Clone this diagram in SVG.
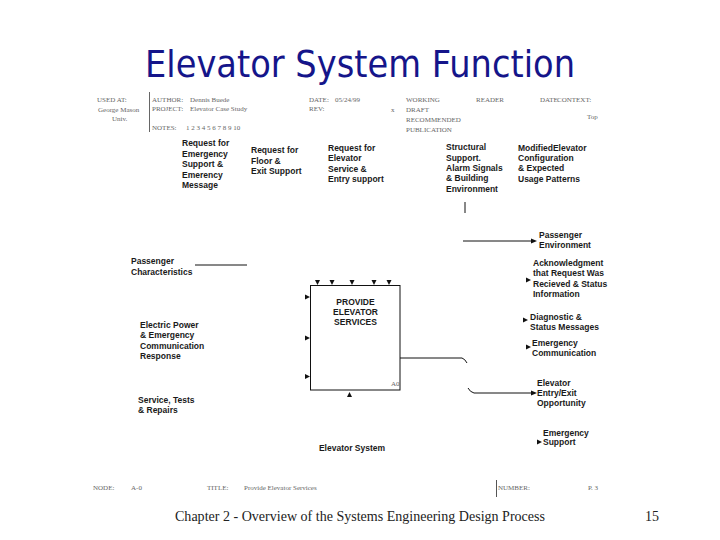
<svg xmlns="http://www.w3.org/2000/svg" width="720" height="540" viewBox="0 0 720 540">
<defs>
<style>
.title{font-family:"DejaVu Sans","Liberation Sans",sans-serif;font-size:38px;fill:#15158a}
.lbl{font-family:"Liberation Sans",Arial,sans-serif;font-size:8.5px;font-weight:bold;fill:#1a1a1a}
.hdr{font-family:"Liberation Serif","Times New Roman",serif;font-size:7px;fill:#666}
.foot{font-family:"Liberation Serif","Times New Roman",serif;font-size:14px;fill:#222}
.ln{stroke:#111;stroke-width:1;fill:none}
.ah{fill:#111}
</style>
</defs>
<rect width="720" height="540" fill="#fff"/>
<text class="title" x="145" y="77" textLength="430" lengthAdjust="spacingAndGlyphs">Elevator System Function</text>

<g id="header">
<text class="hdr" x="97" y="102">USED AT:</text>
<text class="hdr" x="98" y="112">George Mason</text>
<text class="hdr" x="112" y="121">Univ.</text>
<line x1="149.5" y1="92" x2="149.5" y2="132" stroke="#666" stroke-width="1"/>
<text class="hdr" x="152" y="102">AUTHOR:</text>
<text class="hdr" x="190" y="102">Dennis Buede</text>
<text class="hdr" x="152" y="111">PROJECT:</text>
<text class="hdr" x="190" y="111">Elevator Case Study</text>
<text class="hdr" x="152" y="130">NOTES:</text>
<text class="hdr" x="186" y="130">1 2 3 4 5 6 7 8 9 10</text>
<text class="hdr" x="309" y="102">DATE:</text>
<text class="hdr" x="335" y="102">05/24/99</text>
<text class="hdr" x="309" y="111">REV:</text>
<text class="hdr" x="406" y="102">WORKING</text>
<text class="hdr" x="391" y="112">x</text>
<text class="hdr" x="406" y="112">DRAFT</text>
<text class="hdr" x="406" y="122">RECOMMENDED</text>
<text class="hdr" x="406" y="132">PUBLICATION</text>
<text class="hdr" x="476" y="102">READER</text>
<text class="hdr" x="540" y="102">DATE</text>
<text class="hdr" x="557" y="102">CONTEXT:</text>
<text class="hdr" x="587" y="119">Top</text>
</g>

<g id="connectors">
<line class="ln" x1="195" y1="265" x2="247" y2="265"/>
<line class="ln" x1="465" y1="202" x2="465" y2="213"/>
<line class="ln" x1="463" y1="241" x2="533" y2="241"/>
<polygon class="ah" points="537,241 531,238.5 531,243.5"/>
<line class="ln" x1="400" y1="358" x2="462" y2="358"/>
<path class="ln" d="M462,358 Q465,359 467,363"/>
<path class="ln" d="M468,388 Q470,392 474,393"/>
<line class="ln" x1="474" y1="393" x2="533" y2="393"/>
<polygon class="ah" points="537,393 531,390.5 531,395.5"/>
<polygon class="ah" points="531,280 526,277.5 526,282.5"/>
<polygon class="ah" points="528,320 523,317.5 523,322.5"/>
<polygon class="ah" points="531,347 526,344.5 526,349.5"/>
<polygon class="ah" points="542,442 537,439.5 537,444.5"/>
<polygon class="ah" points="317.5,285 315,280 320,280"/>
<polygon class="ah" points="332,285 329.5,280 334.5,280"/>
<polygon class="ah" points="352,285 349.5,280 354.5,280"/>
<polygon class="ah" points="374,285 371.5,280 376.5,280"/>
<polygon class="ah" points="389,285 386.5,280 391.5,280"/>
<polygon class="ah" points="310,297 305,294.5 305,299.5"/>
<polygon class="ah" points="310,338 305,335.5 305,340.5"/>
<polygon class="ah" points="310,376.5 305,374 305,379"/>
<polygon class="ah" points="349.5,392 347,397 352,397"/>
</g>

<g id="box-a0">
<rect x="310.5" y="285.5" width="89.5" height="104.5" fill="none" stroke="#111" stroke-width="1"/>
<text class="lbl" x="355.5" y="305" text-anchor="middle">PROVIDE</text>
<text class="lbl" x="355.5" y="315" text-anchor="middle">ELEVATOR</text>
<text class="lbl" x="355.5" y="325" text-anchor="middle">SERVICES</text>
<text class="hdr" x="391" y="386">A0</text>
</g>

<g id="ctrl-emergency">
<text class="lbl" x="182" y="146">Request for</text>
<text class="lbl" x="182" y="157">Emergency</text>
<text class="lbl" x="182" y="167">Support &amp;</text>
<text class="lbl" x="182" y="178">Emerency</text>
<text class="lbl" x="182" y="188">Message</text>
</g>
<g id="ctrl-floor">
<text class="lbl" x="251" y="153">Request for</text>
<text class="lbl" x="251" y="164">Floor &amp;</text>
<text class="lbl" x="251" y="174">Exit Support</text>
</g>
<g id="ctrl-service">
<text class="lbl" x="328" y="151">Request for</text>
<text class="lbl" x="328" y="161">Elevator</text>
<text class="lbl" x="328" y="172">Service &amp;</text>
<text class="lbl" x="328" y="182">Entry support</text>
</g>
<g id="ctrl-structural">
<text class="lbl" x="446" y="150">Structural</text>
<text class="lbl" x="446" y="161">Support.</text>
<text class="lbl" x="446" y="171">Alarm Signals</text>
<text class="lbl" x="446" y="181">&amp; Building</text>
<text class="lbl" x="446" y="192">Environment</text>
</g>
<g id="ctrl-modified">
<text class="lbl" x="518" y="151">ModifiedElevator</text>
<text class="lbl" x="518" y="161">Configuration</text>
<text class="lbl" x="518" y="171">&amp; Expected</text>
<text class="lbl" x="518" y="182">Usage Patterns</text>
</g>
<g id="in-passenger">
<text class="lbl" x="131" y="264">Passenger</text>
<text class="lbl" x="131" y="275">Characteristics</text>
</g>
<g id="in-power">
<text class="lbl" x="140" y="328">Electric Power</text>
<text class="lbl" x="140" y="338">&amp; Emergency</text>
<text class="lbl" x="140" y="349">Communication</text>
<text class="lbl" x="140" y="359">Response</text>
</g>
<g id="in-service">
<text class="lbl" x="138" y="403">Service, Tests</text>
<text class="lbl" x="138" y="413">&amp; Repairs</text>
</g>
<g id="mech">
<text class="lbl" x="352" y="451" text-anchor="middle">Elevator System</text>
</g>
<g id="out-env">
<text class="lbl" x="539" y="238">Passenger</text>
<text class="lbl" x="539" y="248">Environment</text>
</g>
<g id="out-ack">
<text class="lbl" x="533" y="266">Acknowledgment</text>
<text class="lbl" x="533" y="276">that Request Was</text>
<text class="lbl" x="533" y="287">Recieved &amp; Status</text>
<text class="lbl" x="533" y="297">Information</text>
</g>
<g id="out-diag">
<text class="lbl" x="530" y="320">Diagnostic &amp;</text>
<text class="lbl" x="530" y="330">Status Messages</text>
</g>
<g id="out-emcomm">
<text class="lbl" x="532" y="346">Emergency</text>
<text class="lbl" x="532" y="356">Communication</text>
</g>
<g id="out-entry">
<text class="lbl" x="537" y="386">Elevator</text>
<text class="lbl" x="537" y="396">Entry/Exit</text>
<text class="lbl" x="537" y="406">Opportunity</text>
</g>
<g id="out-support">
<text class="lbl" x="543" y="436">Emergency</text>
<text class="lbl" x="543" y="445">Support</text>
</g>

<g id="footer-frame">
<text class="hdr" x="93" y="490">NODE:</text>
<text class="hdr" x="131" y="490">A-0</text>
<text class="hdr" x="207" y="490">TITLE:</text>
<text class="hdr" x="244" y="490">Provide Elevator Services</text>
<line x1="496.5" y1="480" x2="496.5" y2="497" stroke="#555" stroke-width="1"/>
<text class="hdr" x="498" y="490">NUMBER:</text>
<text class="hdr" x="588" y="490">P. 3</text>
</g>

<text class="foot" x="175" y="521" textLength="370" lengthAdjust="spacingAndGlyphs">Chapter 2 - Overview of the Systems Engineering Design Process</text>
<text class="foot" x="645" y="521">15</text>
</svg>
